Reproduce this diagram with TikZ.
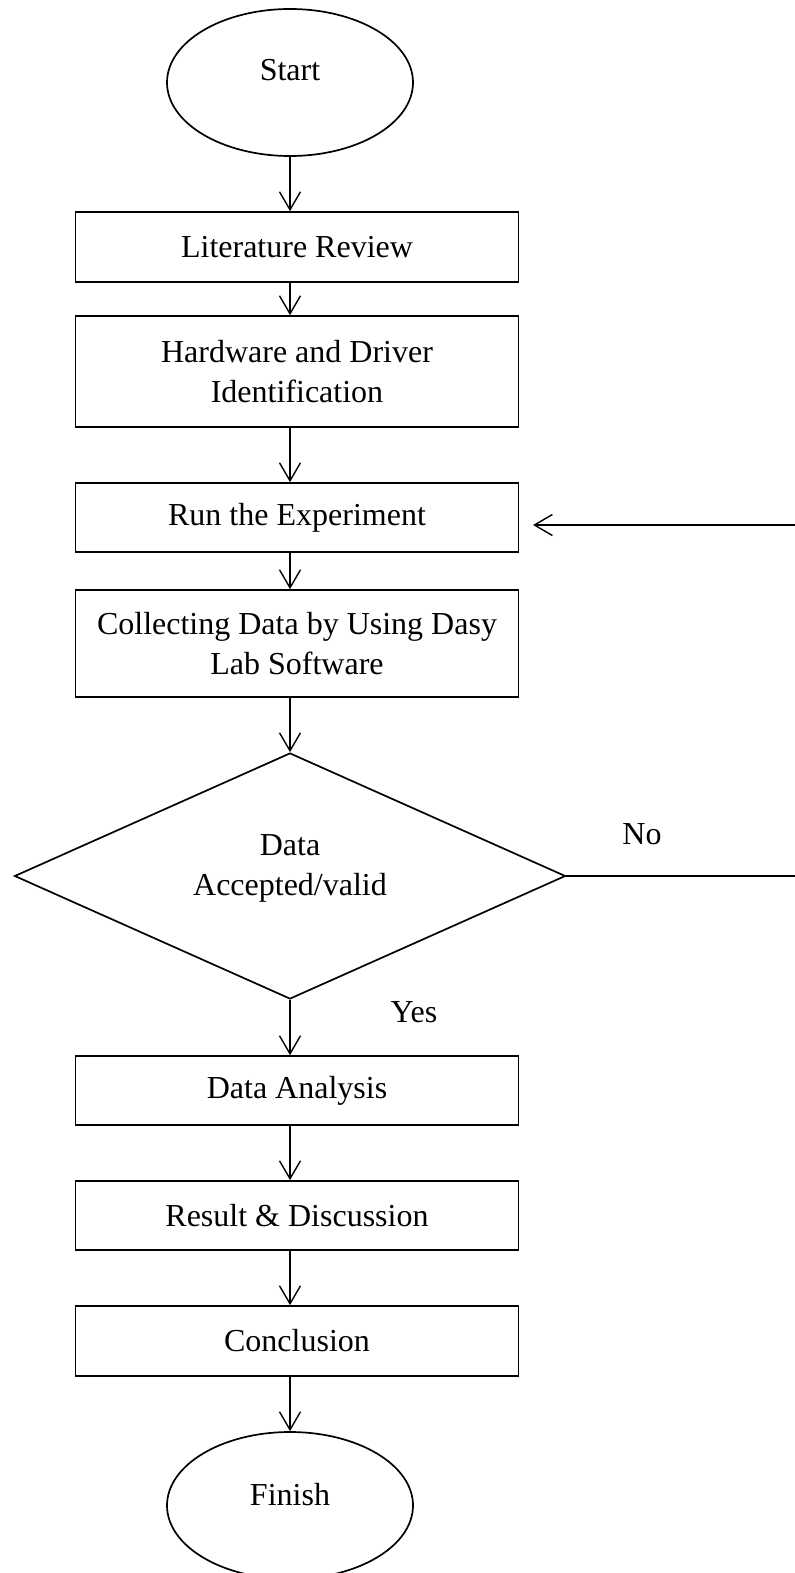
\documentclass[tikz,border=0pt]{standalone}
\usepackage{fontspec}
\setmainfont{Liberation Serif}
\usetikzlibrary{arrows.meta,shapes.geometric}

% drawing unit: one "px" of the layout grid
\def\pxu{0.5pt}

\tikzset{
  every node/.style={font=\fontsize{16pt}{20pt}\selectfont, inner sep=0pt},
  stepbox/.style={draw, line width=0.85pt, rectangle, minimum width=443*\pxu, align=center},
  terminal/.style={draw, line width=0.85pt, ellipse, minimum width=246*\pxu, minimum height=147*\pxu},
  decision/.style={draw, line width=0.85pt, diamond, minimum width=551*\pxu, minimum height=246*\pxu},
  arr/.style={line width=0.7pt, -{Straight Barb[length=9pt,width=10.5pt,line width=0.7pt]}},
  link/.style={line width=0.7pt},
  tag/.style={font=\fontsize{16pt}{20pt}\selectfont}
}

\begin{document}
\begin{tikzpicture}[x=0.5pt, y=-0.5pt]
  \useasboundingbox (0,0) rectangle (795,1573);
  \clip (0,0) rectangle (795,1573);

  % terminals
  \node[terminal] (start) at (290,82.5) {};
  \node (startq) at ([yshift=12*\pxu]start.center) {Start};

  % process steps
  \node[stepbox, minimum height=70*\pxu]  (lit) at (297,247)    {Literature Review};
  \node[stepbox, minimum height=111*\pxu] (hw)  at (297,371.5)  {Hardware and Driver\\Identification};
  \node[stepbox, minimum height=69*\pxu]  (run) at (297,517.5)  {Run the Experiment};
  \node[stepbox, minimum height=107*\pxu] (col) at (297,643.5)  {Collecting Data by Using Dasy\\Lab Software};

  % decision
  \node[decision] (dec) at (290,876) {};
  \node[align=center] (decq) at ([yshift=8*\pxu]dec.center) {Data\\Accepted/valid};

  \node[stepbox, minimum height=69*\pxu]  (ana) at (297,1090.5) {Data Analysis};
  \node[stepbox, minimum height=69*\pxu]  (res) at (297,1215.5) {Result \& Discussion};
  \node[stepbox, minimum height=70*\pxu]  (con) at (297,1341)   {Conclusion};

  \node[terminal] (fin) at (290,1505.5) {};
  \node (finq) at ([yshift=11*\pxu]fin.center) {Finish};

  % branch labels
  \node[tag] (no)  at (642,834)  {No};
  \node[tag] (yes) at (414,1012) {Yes};

  % main flow
  \draw[arr] (start.south) -- (start.south |- lit.north);
  \draw[arr] (start.south |- lit.south) -- (start.south |- hw.north);
  \draw[arr] (start.south |- hw.south) -- (start.south |- run.north);
  \draw[arr] (start.south |- run.south) -- (start.south |- col.north);
  \draw[arr] (start.south |- col.south) -- (dec.north);
  \draw[arr] (dec.south) -- (dec.south |- ana.north);
  \draw[arr] (start.south |- ana.south) -- (start.south |- res.north);
  \draw[arr] (start.south |- res.south) -- (start.south |- con.north);
  \draw[arr] (start.south |- con.south) -- (fin.north);

  % rejection loop back to the experiment
  \coordinate (loopx) at (803,876);
  \coordinate (back)  at (533,525);
  \draw[link] (dec.east) -- (loopx);
  \draw[arr] (loopx) -- (loopx |- back) -- (back);
\end{tikzpicture}
\end{document}
